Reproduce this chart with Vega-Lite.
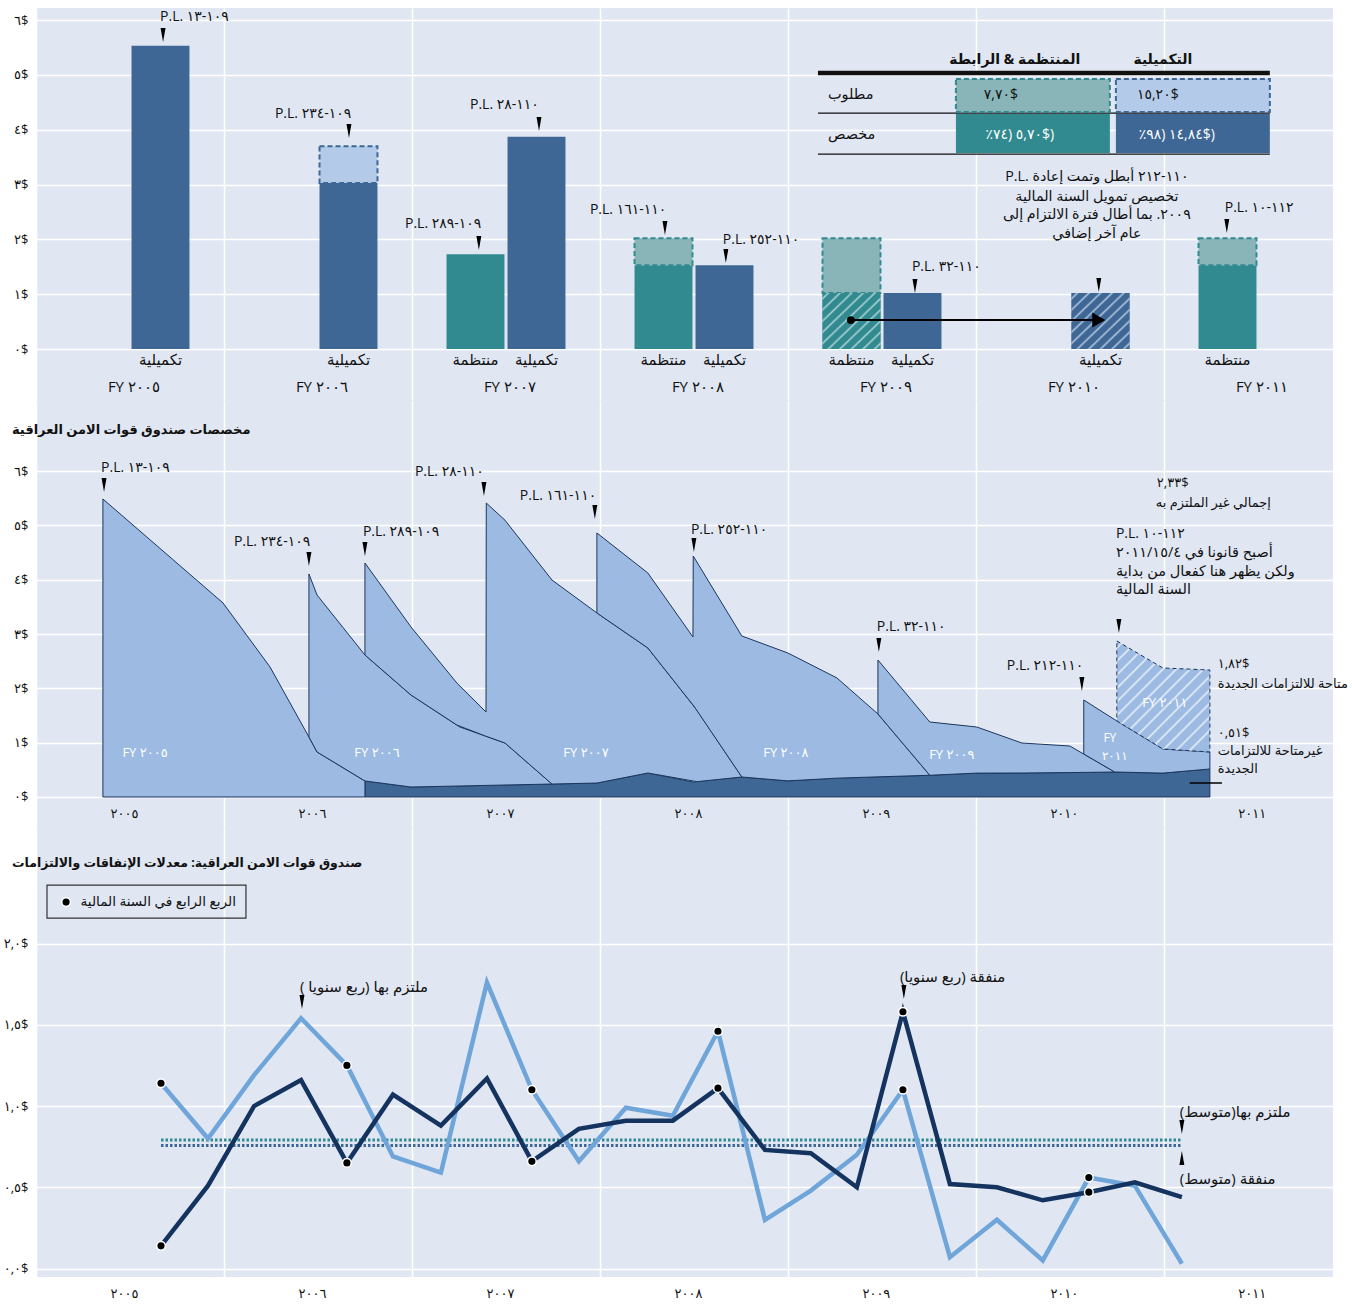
{
  "$schema": "https://vega.github.io/schema/vega-lite/v6.json",
  "background": "white",
  "padding": {"left": 3, "top": 8, "right": 0, "bottom": 0},
  "spacing": 0,
  "bounds": "flush",
  "config": {
    "view": {"fill": "#E0E7F3", "stroke": null},
    "font": "Open Sans, DejaVu Sans, sans-serif",
    "axis": {"domain": false, "ticks": false, "tickSize": 0, "gridColor": "#FFFFFF", "gridWidth": 1.6, "gridOpacity": 1, "labelColor": "#111111", "labelFontSize": 13},
    "text": {"fontSize": 13, "color": "#111111"}
  },
  "datasets": {
    "bars": [
      {"fy": "FY ٢٠٠٥", "type": "تكميلية", "allocated": 5.53, "requested": 5.53, "hatched": false},
      {"fy": "FY ٢٠٠٦", "type": "تكميلية", "allocated": 3.03, "requested": 3.7, "hatched": false},
      {"fy": "FY ٢٠٠٧", "type": "منتظمة", "allocated": 1.73, "requested": 1.73, "hatched": false},
      {"fy": "FY ٢٠٠٧", "type": "تكميلية", "allocated": 3.87, "requested": 3.87, "hatched": false},
      {"fy": "FY ٢٠٠٨", "type": "منتظمة", "allocated": 1.53, "requested": 2.02, "hatched": false},
      {"fy": "FY ٢٠٠٨", "type": "تكميلية", "allocated": 1.53, "requested": 1.53, "hatched": false},
      {"fy": "FY ٢٠٠٩", "type": "منتظمة", "allocated": 1.02, "requested": 2.02, "hatched": true},
      {"fy": "FY ٢٠٠٩", "type": "تكميلية", "allocated": 1.02, "requested": 1.02, "hatched": false},
      {"fy": "FY ٢٠١٠", "type": "تكميلية", "allocated": 1.02, "requested": 1.02, "hatched": true},
      {"fy": "FY ٢٠١١", "type": "منتظمة", "allocated": 1.53, "requested": 2.02, "hatched": false}
    ],
    "dark": [
      {"t": 1.750, "v": 0.295}, {"t": 1.995, "v": 0.184}, {"t": 2.745, "v": 0.239}, {"t": 2.984, "v": 0.257},
      {"t": 3.255, "v": 0.442}, {"t": 3.495, "v": 0.276}, {"t": 3.755, "v": 0.368}, {"t": 4.0, "v": 0.297},
      {"t": 4.261, "v": 0.347}, {"t": 4.755, "v": 0.40}, {"t": 5.005, "v": 0.44}, {"t": 5.245, "v": 0.442},
      {"t": 5.5, "v": 0.45}, {"t": 5.739, "v": 0.46}, {"t": 5.995, "v": 0.44}, {"t": 6.245, "v": 0.516}
    ],
    "areas": [
      {"fy": "FY2005", "t": 0.356, "lo": 0, "hi": 5.488},
      {"fy": "FY2005", "t": 0.995, "lo": 0, "hi": 3.573},
      {"fy": "FY2005", "t": 1.245, "lo": 0, "hi": 2.394},
      {"fy": "FY2005", "t": 1.452, "lo": 0, "hi": 1.105},
      {"fy": "FY2005", "t": 1.495, "lo": 0, "hi": 0.829},
      {"fy": "FY2005", "t": 1.750, "lo": 0, "hi": 0.295},
      {"fy": "FY2006", "t": 1.452, "lo": 1.105, "hi": 4.107},
      {"fy": "FY2006", "t": 1.495, "lo": 0.829, "hi": 3.720},
      {"fy": "FY2006", "t": 1.750, "lo": 0.295, "hi": 2.615},
      {"fy": "FY2006", "t": 1.995, "lo": 0.184, "hi": 1.878},
      {"fy": "FY2006", "t": 2.255, "lo": 0.203, "hi": 1.289},
      {"fy": "FY2006", "t": 2.495, "lo": 0.221, "hi": 0.994},
      {"fy": "FY2006", "t": 2.745, "lo": 0.239, "hi": 0.239},
      {"fy": "FY2007", "t": 1.750, "lo": 2.615, "hi": 4.309},
      {"fy": "FY2007", "t": 1.995, "lo": 1.878, "hi": 3.131},
      {"fy": "FY2007", "t": 2.239, "lo": 1.325, "hi": 2.099},
      {"fy": "FY2007", "t": 2.394, "lo": 1.118, "hi": 1.565},
      {"fy": "FY2007", "t": 2.3955, "lo": 1.117, "hi": 5.414},
      {"fy": "FY2007", "t": 2.495, "lo": 0.994, "hi": 5.097},
      {"fy": "FY2007", "t": 2.745, "lo": 0.239, "hi": 3.996},
      {"fy": "FY2007", "t": 2.984, "lo": 0.257, "hi": 3.389},
      {"fy": "FY2007", "t": 3.255, "lo": 0.442, "hi": 2.744},
      {"fy": "FY2007", "t": 3.516, "lo": 0.283, "hi": 1.602},
      {"fy": "FY2007", "t": 3.755, "lo": 0.368, "hi": 0.368},
      {"fy": "FY2008", "t": 2.984, "lo": 3.389, "hi": 4.862},
      {"fy": "FY2008", "t": 3.255, "lo": 2.744, "hi": 4.125},
      {"fy": "FY2008", "t": 3.495, "lo": 1.694, "hi": 2.947},
      {"fy": "FY2008", "t": 3.4965, "lo": 1.692, "hi": 4.438},
      {"fy": "FY2008", "t": 3.755, "lo": 0.368, "hi": 2.965},
      {"fy": "FY2008", "t": 4.0, "lo": 0.297, "hi": 2.652},
      {"fy": "FY2008", "t": 4.261, "lo": 0.347, "hi": 2.192},
      {"fy": "FY2008", "t": 4.479, "lo": 0.371, "hi": 1.529},
      {"fy": "FY2008", "t": 4.755, "lo": 0.40, "hi": 0.40},
      {"fy": "FY2009", "t": 4.479, "lo": 1.529, "hi": 2.523},
      {"fy": "FY2009", "t": 4.755, "lo": 0.40, "hi": 1.381},
      {"fy": "FY2009", "t": 5.005, "lo": 0.44, "hi": 1.289},
      {"fy": "FY2009", "t": 5.245, "lo": 0.442, "hi": 0.994},
      {"fy": "FY2009", "t": 5.5, "lo": 0.45, "hi": 0.939},
      {"fy": "FY2009", "t": 5.739, "lo": 0.46, "hi": 0.46},
      {"fy": "FY2011a", "t": 5.574, "lo": 0.791, "hi": 1.786},
      {"fy": "FY2011a", "t": 5.739, "lo": 0.46, "hi": 1.424},
      {"fy": "FY2011a", "t": 5.75, "lo": 0.46, "hi": 1.40},
      {"fy": "FY2011a", "t": 5.995, "lo": 0.44, "hi": 0.884},
      {"fy": "FY2011a", "t": 6.245, "lo": 0.516, "hi": 0.829},
      {"fy": "FY2011b", "t": 5.75, "lo": 1.40, "hi": 2.873},
      {"fy": "FY2011b", "t": 5.995, "lo": 0.884, "hi": 2.376},
      {"fy": "FY2011b", "t": 6.245, "lo": 0.829, "hi": 2.339}
    ],
    "rates": [
      {"quarter": "Q1", "t": 0.665, "obligated": 1.14, "expended": 0.14, "q4": true},
      {"quarter": "Q2", "t": 0.915, "obligated": 0.80, "expended": 0.51, "q4": false},
      {"quarter": "Q3", "t": 1.160, "obligated": 1.19, "expended": 1.00, "q4": false},
      {"quarter": "Q4", "t": 1.410, "obligated": 1.54, "expended": 1.16, "q4": false},
      {"quarter": "Q5", "t": 1.654, "obligated": 1.25, "expended": 0.65, "q4": true},
      {"quarter": "Q6", "t": 1.899, "obligated": 0.69, "expended": 1.07, "q4": false},
      {"quarter": "Q7", "t": 2.154, "obligated": 0.59, "expended": 0.88, "q4": false},
      {"quarter": "Q8", "t": 2.399, "obligated": 1.76, "expended": 1.17, "q4": false},
      {"quarter": "Q9", "t": 2.638, "obligated": 1.10, "expended": 0.66, "q4": true},
      {"quarter": "Q10", "t": 2.888, "obligated": 0.66, "expended": 0.86, "q4": false},
      {"quarter": "Q11", "t": 3.138, "obligated": 0.99, "expended": 0.91, "q4": false},
      {"quarter": "Q12", "t": 3.388, "obligated": 0.94, "expended": 0.91, "q4": false},
      {"quarter": "Q13", "t": 3.628, "obligated": 1.46, "expended": 1.11, "q4": true},
      {"quarter": "Q14", "t": 3.878, "obligated": 0.30, "expended": 0.73, "q4": false},
      {"quarter": "Q15", "t": 4.122, "obligated": 0.48, "expended": 0.71, "q4": false},
      {"quarter": "Q16", "t": 4.367, "obligated": 0.70, "expended": 0.50, "q4": false},
      {"quarter": "Q17", "t": 4.612, "obligated": 1.10, "expended": 1.58, "q4": true},
      {"quarter": "Q18", "t": 4.862, "obligated": 0.07, "expended": 0.52, "q4": false},
      {"quarter": "Q19", "t": 5.112, "obligated": 0.30, "expended": 0.50, "q4": false},
      {"quarter": "Q20", "t": 5.356, "obligated": 0.05, "expended": 0.42, "q4": false},
      {"quarter": "Q21", "t": 5.601, "obligated": 0.56, "expended": 0.47, "q4": true},
      {"quarter": "Q22", "t": 5.846, "obligated": 0.51, "expended": 0.53, "q4": false},
      {"quarter": "Q23", "t": 6.096, "obligated": 0.03, "expended": 0.44, "q4": false}
    ]
  },
  "vconcat": [
    {
      "width": 1297,
      "height": 392,
      "resolve": {"scale": {"x": "independent"}, "axis": {"x": "independent"}},
      "layer": [
        {
          "data": {"name": "bars"},
          "encoding": {
            "x": {"field": "fy", "type": "nominal", "scale": {"domain": ["FY ٢٠٠٥", "FY ٢٠٠٦", "FY ٢٠٠٧", "FY ٢٠٠٨", "FY ٢٠٠٩", "FY ٢٠١٠", "FY ٢٠١١"], "range": [0, 1316], "paddingInner": 0, "paddingOuter": 0},
              "axis": {"title": null, "bandPosition": 0, "grid": true, "labelAngle": 0, "labelOffset": 4, "labelPadding": -14, "labelBaseline": "middle", "labelFontSize": 15}},
            "xOffset": {"field": "type", "type": "nominal", "scale": {"domain": ["منتظمة", "تكميلية"], "paddingInner": 0.05, "paddingOuter": 0.566}}
          },
          "layer": [
            {
              "mark": {"type": "bar"},
              "encoding": {
                "y": {"field": "allocated", "type": "quantitative", "scale": {"domain": [-0.93, 6.22], "nice": false, "zero": false},
                  "axis": {"title": null, "values": [0, 1, 2, 3, 4, 5, 6], "labelExpr": "['٠$','١$','٢$','٣$','٤$','٥$','٦$'][datum.value]", "grid": true, "labelPadding": 8}},
                "y2": {"datum": 0},
                "color": {"field": "type", "type": "nominal", "scale": {"domain": ["منتظمة", "تكميلية"], "range": ["#318A8F", "#3E6795"]}, "legend": null}
              }
            },
            {
              "transform": [{"filter": "datum.requested > datum.allocated"}],
              "mark": {"type": "bar", "strokeDash": [5, 3], "strokeWidth": 2},
              "encoding": {
                "y": {"field": "requested", "type": "quantitative"},
                "y2": {"field": "allocated"},
                "fill": {"field": "type", "type": "nominal", "scale": {"domain": ["منتظمة", "تكميلية"], "range": ["#8AB5B8", "#B3CAE8"]}, "legend": null},
                "stroke": {"field": "type", "type": "nominal", "scale": {"domain": ["منتظمة", "تكميلية"], "range": ["#318A8F", "#3E6795"]}, "legend": null}
              }
            },
            {
              "transform": [{"filter": "datum.hatched && datum.type == 'منتظمة'"}],
              "mark": {"type": "bar", "fill": {"gradient": "linear", "x1": 0, "y1": 0, "x2": 1, "y2": 1, "stops": [
                {"offset": 0, "color": "#318A8F"},
                {"offset": 0.03, "color": "#318A8F"}, {"offset": 0.05, "color": "#A8D0D2"}, {"offset": 0.07, "color": "#318A8F"},
                {"offset": 0.13, "color": "#318A8F"}, {"offset": 0.15, "color": "#A8D0D2"}, {"offset": 0.17, "color": "#318A8F"},
                {"offset": 0.23, "color": "#318A8F"}, {"offset": 0.25, "color": "#A8D0D2"}, {"offset": 0.27, "color": "#318A8F"},
                {"offset": 0.33, "color": "#318A8F"}, {"offset": 0.35, "color": "#A8D0D2"}, {"offset": 0.37, "color": "#318A8F"},
                {"offset": 0.43, "color": "#318A8F"}, {"offset": 0.45, "color": "#A8D0D2"}, {"offset": 0.47, "color": "#318A8F"},
                {"offset": 0.53, "color": "#318A8F"}, {"offset": 0.55, "color": "#A8D0D2"}, {"offset": 0.57, "color": "#318A8F"},
                {"offset": 0.63, "color": "#318A8F"}, {"offset": 0.65, "color": "#A8D0D2"}, {"offset": 0.67, "color": "#318A8F"},
                {"offset": 0.73, "color": "#318A8F"}, {"offset": 0.75, "color": "#A8D0D2"}, {"offset": 0.77, "color": "#318A8F"},
                {"offset": 0.83, "color": "#318A8F"}, {"offset": 0.85, "color": "#A8D0D2"}, {"offset": 0.87, "color": "#318A8F"},
                {"offset": 0.93, "color": "#318A8F"}, {"offset": 0.95, "color": "#A8D0D2"}, {"offset": 0.97, "color": "#318A8F"},
                {"offset": 1, "color": "#318A8F"}]}},
              "encoding": {"y": {"field": "allocated", "type": "quantitative"}, "y2": {"datum": 0}}
            },
            {
              "transform": [{"filter": "datum.hatched && datum.type == 'تكميلية'"}],
              "mark": {"type": "bar", "fill": {"gradient": "linear", "x1": 0, "y1": 0, "x2": 1, "y2": 1, "stops": [
                {"offset": 0, "color": "#3E6795"},
                {"offset": 0.03, "color": "#3E6795"}, {"offset": 0.05, "color": "#AFC2DD"}, {"offset": 0.07, "color": "#3E6795"},
                {"offset": 0.13, "color": "#3E6795"}, {"offset": 0.15, "color": "#AFC2DD"}, {"offset": 0.17, "color": "#3E6795"},
                {"offset": 0.23, "color": "#3E6795"}, {"offset": 0.25, "color": "#AFC2DD"}, {"offset": 0.27, "color": "#3E6795"},
                {"offset": 0.33, "color": "#3E6795"}, {"offset": 0.35, "color": "#AFC2DD"}, {"offset": 0.37, "color": "#3E6795"},
                {"offset": 0.43, "color": "#3E6795"}, {"offset": 0.45, "color": "#AFC2DD"}, {"offset": 0.47, "color": "#3E6795"},
                {"offset": 0.53, "color": "#3E6795"}, {"offset": 0.55, "color": "#AFC2DD"}, {"offset": 0.57, "color": "#3E6795"},
                {"offset": 0.63, "color": "#3E6795"}, {"offset": 0.65, "color": "#AFC2DD"}, {"offset": 0.67, "color": "#3E6795"},
                {"offset": 0.73, "color": "#3E6795"}, {"offset": 0.75, "color": "#AFC2DD"}, {"offset": 0.77, "color": "#3E6795"},
                {"offset": 0.83, "color": "#3E6795"}, {"offset": 0.85, "color": "#AFC2DD"}, {"offset": 0.87, "color": "#3E6795"},
                {"offset": 0.93, "color": "#3E6795"}, {"offset": 0.95, "color": "#AFC2DD"}, {"offset": 0.97, "color": "#3E6795"},
                {"offset": 1, "color": "#3E6795"}]}},
              "encoding": {"y": {"field": "allocated", "type": "quantitative"}, "y2": {"datum": 0}}
            },
            {
              "mark": {"type": "text", "fontSize": 15, "baseline": "middle"},
              "encoding": {"y": {"datum": -0.2}, "text": {"field": "type"}}
            }
          ]
        },
        {
          "encoding": {
            "x": {"field": "t", "type": "quantitative", "scale": {"domain": [0, 6.9], "nice": false, "zero": false}, "axis": null},
            "y": {"field": "v", "type": "quantitative"}
          },
          "layer": [
            {
              "data": {"values": [
                {"t0": 4.16, "t1": 6.564, "v": 4.304},
                {"t0": 4.16, "t1": 6.564, "v": 3.556}
              ]},
              "mark": {"type": "rule", "color": "#111111", "strokeWidth": 1.2},
              "encoding": {"x": {"field": "t0", "type": "quantitative"}, "x2": {"field": "t1"}}
            },
            {
              "data": {"values": [{"t0": 4.16, "t1": 6.564, "v": 5.035}]},
              "mark": {"type": "rule", "color": "#111111", "strokeWidth": 4.5},
              "encoding": {"x": {"field": "t0", "type": "quantitative"}, "x2": {"field": "t1"}}
            },
            {
              "data": {"values": [{"col": "المنتظمة", "row": "مطلوب", "t0": 4.894, "t1": 5.713, "v0": 4.322, "v1": 4.924}]},
              "mark": {"type": "rect", "fill": "#8AB5B8", "stroke": "#318A8F", "strokeDash": [5, 3], "strokeWidth": 2},
              "encoding": {"x": {"field": "t0", "type": "quantitative"}, "x2": {"field": "t1"}, "y": {"field": "v0", "type": "quantitative"}, "y2": {"field": "v1"}}
            },
            {
              "data": {"values": [{"col": "التكميلية", "row": "مطلوب", "t0": 5.745, "t1": 6.564, "v0": 4.322, "v1": 4.924}]},
              "mark": {"type": "rect", "fill": "#B3CAE8", "stroke": "#3E6795", "strokeDash": [5, 3], "strokeWidth": 2},
              "encoding": {"x": {"field": "t0", "type": "quantitative"}, "x2": {"field": "t1"}, "y": {"field": "v0", "type": "quantitative"}, "y2": {"field": "v1"}}
            },
            {
              "data": {"values": [{"col": "المنتظمة", "row": "مخصص", "t0": 4.894, "t1": 5.713, "v0": 3.575, "v1": 4.286}]},
              "mark": {"type": "rect", "fill": "#318A8F"},
              "encoding": {"x": {"field": "t0", "type": "quantitative"}, "x2": {"field": "t1"}, "y": {"field": "v0", "type": "quantitative"}, "y2": {"field": "v1"}}
            },
            {
              "data": {"values": [{"col": "التكميلية", "row": "مخصص", "t0": 5.745, "t1": 6.564, "v0": 3.575, "v1": 4.286}]},
              "mark": {"type": "rect", "fill": "#3E6795"},
              "encoding": {"x": {"field": "t0", "type": "quantitative"}, "x2": {"field": "t1"}, "y": {"field": "v0", "type": "quantitative"}, "y2": {"field": "v1"}}
            },
            {
              "data": {"values": [
                {"t": 5.207, "v": 5.271, "text": "المنتظمة & الرابطة"},
                {"t": 5.995, "v": 5.271, "text": "التكميلية"}
              ]},
              "mark": {"type": "text", "fontSize": 14, "fontWeight": "bold", "baseline": "middle", "align": "center"},
              "encoding": {"text": {"field": "text"}}
            },
            {
              "data": {"values": [
                {"t": 4.213, "v": 4.633, "text": "مطلوب"},
                {"t": 4.213, "v": 3.903, "text": "مخصص"}
              ]},
              "mark": {"type": "text", "fontSize": 14.5, "baseline": "middle", "align": "left"},
              "encoding": {"text": {"field": "text"}}
            },
            {
              "data": {"values": [
                {"t": 5.133, "v": 4.633, "text": "\u202D٧,٧٠$\u202C"},
                {"t": 5.968, "v": 4.633, "text": "\u202D١٥,٢٠$\u202C"}
              ]},
              "mark": {"type": "text", "fontSize": 14, "baseline": "middle", "align": "center"},
              "encoding": {"text": {"field": "text"}}
            },
            {
              "data": {"values": [
                {"t": 5.234, "v": 3.903, "text": "\u202D٪٧٤) ٥,٧٠$)\u202C"},
                {"t": 6.069, "v": 3.903, "text": "\u202D٪٩٨) ١٤,٨٤$)\u202C"}
              ]},
              "mark": {"type": "text", "fontSize": 14, "baseline": "middle", "align": "center", "color": "#FFFFFF"},
              "encoding": {"text": {"field": "text"}}
            },
            {
              "data": {"values": [
                {"t": 0.660, "v": 6.055, "text": "\u202DP.L. ١٣-١٠٩\u202C"},
                {"t": 1.271, "v": 4.286, "text": "\u202DP.L. ٢٣٤-١٠٩\u202C"},
                {"t": 1.963, "v": 2.280, "text": "\u202DP.L. ٢٨٩-١٠٩\u202C"},
                {"t": 2.309, "v": 4.450, "text": "\u202DP.L. ٢٨-١١٠\u202C"},
                {"t": 2.947, "v": 2.535, "text": "\u202DP.L. ١٦١-١١٠\u202C"},
                {"t": 3.654, "v": 1.988, "text": "\u202DP.L. ٢٥٢-١١٠\u202C"},
                {"t": 4.660, "v": 1.496, "text": "\u202DP.L. ٣٢-١١٠\u202C"},
                {"t": 6.324, "v": 2.572, "text": "\u202DP.L. ١٠-١١٢\u202C"}
              ]},
              "mark": {"type": "text", "fontSize": 14, "baseline": "middle", "align": "left"},
              "encoding": {"text": {"field": "text"}}
            },
            {
              "data": {"values": [
                {"t": 5.644, "v": 3.137, "text": "P.L. ١١٠-٢١٢ أبطل وتمت إعادة"},
                {"t": 5.644, "v": 2.772, "text": "تخصيص تمويل السنة المالية"},
                {"t": 5.644, "v": 2.444, "text": "٢٠٠٩. بما أطال فترة الالتزام إلى"},
                {"t": 5.644, "v": 2.097, "text": "عام آخر إضافي"}
              ]},
              "mark": {"type": "text", "fontSize": 14.3, "baseline": "middle", "align": "center"},
              "encoding": {"text": {"field": "text"}}
            },
            {
              "data": {"values": [
                {"t": 0.676, "v": 5.727}, {"t": 1.665, "v": 3.976}, {"t": 2.356, "v": 1.933},
                {"t": 2.676, "v": 4.104}, {"t": 3.346, "v": 2.207}, {"t": 3.670, "v": 1.696},
                {"t": 4.676, "v": 1.149}, {"t": 5.654, "v": 1.167}, {"t": 6.335, "v": 2.243}
              ]},
              "mark": {"type": "point", "shape": "M-0.35,-1L0.35,-1L0,1Z", "filled": true, "color": "#000000", "size": 200, "opacity": 1}
            },
            {
              "data": {"values": [{"t0": 4.335, "t1": 5.63, "v": 0.529}]},
              "mark": {"type": "rule", "color": "#000000", "strokeWidth": 2},
              "encoding": {"x": {"field": "t0", "type": "quantitative"}, "x2": {"field": "t1"}}
            },
            {
              "data": {"values": [{"t": 4.335, "v": 0.529}]},
              "mark": {"type": "point", "shape": "circle", "filled": true, "color": "#000000", "size": 60, "opacity": 1}
            },
            {
              "data": {"values": [{"t": 5.654, "v": 0.529}]},
              "mark": {"type": "point", "shape": "triangle-right", "filled": true, "color": "#000000", "size": 230, "opacity": 1}
            }
          ]
        }
      ]
    },
    {
      "width": 1297,
      "height": 428,
      "encoding": {
        "x": {"field": "t", "type": "quantitative", "scale": {"domain": [0, 6.9], "nice": false, "zero": false},
          "axis": {"title": null, "values": [0, 1, 2, 3, 4, 5, 6], "labelExpr": "['٢٠٠٥','٢٠٠٦','٢٠٠٧','٢٠٠٨','٢٠٠٩','٢٠١٠','٢٠١١'][datum.value]", "grid": true, "labelOffset": 88, "labelPadding": -15, "labelBaseline": "middle", "labelFlush": false, "labelOverlap": false, "labelFontSize": 13}},
        "y": {"field": "v", "type": "quantitative", "scale": {"domain": [-0.571, 7.311], "nice": false, "zero": false},
          "axis": {"title": null, "values": [0, 1, 2, 3, 4, 5, 6], "labelExpr": "['٠$','١$','٢$','٣$','٤$','٥$','٦$'][datum.value]", "grid": true, "labelPadding": 8}}
      },
      "layer": [
        {
          "data": {"name": "dark"},
          "mark": {"type": "area", "fill": "#3E6795", "stroke": "#1C355E", "strokeWidth": 1},
          "encoding": {"y2": {"datum": 0}}
        },
        {
          "data": {"name": "areas"},
          "transform": [{"filter": "datum.fy != 'FY2011b'"}],
          "mark": {"type": "area", "fill": "#9DBBE2", "stroke": "#1C355E", "strokeWidth": 1, "fillOpacity": 1},
          "encoding": {"y": {"field": "hi", "type": "quantitative"}, "y2": {"field": "lo"}, "detail": {"field": "fy"}}
        },
        {
          "data": {"name": "areas"},
          "transform": [{"filter": "datum.fy == 'FY2011b'"}],
          "mark": {"type": "area", "stroke": "#1C355E", "strokeWidth": 1, "strokeDash": [4, 3], "fillOpacity": 1,
            "fill": {"gradient": "linear", "x1": 0, "y1": 0, "x2": 0.84, "y2": 1, "stops": [
              {"offset": 0, "color": "#9DBBE2"},
              {"offset": 0.024, "color": "#9DBBE2"}, {"offset": 0.036, "color": "#E6EEF8"}, {"offset": 0.048, "color": "#9DBBE2"},
              {"offset": 0.095, "color": "#9DBBE2"}, {"offset": 0.107, "color": "#E6EEF8"}, {"offset": 0.119, "color": "#9DBBE2"},
              {"offset": 0.167, "color": "#9DBBE2"}, {"offset": 0.179, "color": "#E6EEF8"}, {"offset": 0.191, "color": "#9DBBE2"},
              {"offset": 0.238, "color": "#9DBBE2"}, {"offset": 0.250, "color": "#E6EEF8"}, {"offset": 0.262, "color": "#9DBBE2"},
              {"offset": 0.309, "color": "#9DBBE2"}, {"offset": 0.321, "color": "#E6EEF8"}, {"offset": 0.333, "color": "#9DBBE2"},
              {"offset": 0.381, "color": "#9DBBE2"}, {"offset": 0.393, "color": "#E6EEF8"}, {"offset": 0.405, "color": "#9DBBE2"},
              {"offset": 0.452, "color": "#9DBBE2"}, {"offset": 0.464, "color": "#E6EEF8"}, {"offset": 0.476, "color": "#9DBBE2"},
              {"offset": 0.524, "color": "#9DBBE2"}, {"offset": 0.536, "color": "#E6EEF8"}, {"offset": 0.548, "color": "#9DBBE2"},
              {"offset": 0.595, "color": "#9DBBE2"}, {"offset": 0.607, "color": "#E6EEF8"}, {"offset": 0.619, "color": "#9DBBE2"},
              {"offset": 0.667, "color": "#9DBBE2"}, {"offset": 0.679, "color": "#E6EEF8"}, {"offset": 0.691, "color": "#9DBBE2"},
              {"offset": 0.738, "color": "#9DBBE2"}, {"offset": 0.750, "color": "#E6EEF8"}, {"offset": 0.762, "color": "#9DBBE2"},
              {"offset": 0.809, "color": "#9DBBE2"}, {"offset": 0.821, "color": "#E6EEF8"}, {"offset": 0.833, "color": "#9DBBE2"},
              {"offset": 0.881, "color": "#9DBBE2"}, {"offset": 0.893, "color": "#E6EEF8"}, {"offset": 0.905, "color": "#9DBBE2"},
              {"offset": 0.952, "color": "#9DBBE2"}, {"offset": 0.964, "color": "#E6EEF8"}, {"offset": 0.976, "color": "#9DBBE2"},
              {"offset": 1, "color": "#9DBBE2"}]}},
          "encoding": {"y": {"field": "hi", "type": "quantitative"}, "y2": {"field": "lo"}}
        },
        {
          "data": {"values": [
            {"t": 0.580, "v": 0.81, "text": "FY ٢٠٠٥"},
            {"t": 1.814, "v": 0.81, "text": "FY ٢٠٠٦"},
            {"t": 2.926, "v": 0.81, "text": "FY ٢٠٠٧"},
            {"t": 3.989, "v": 0.81, "text": "FY ٢٠٠٨"},
            {"t": 4.872, "v": 0.77, "text": "FY ٢٠٠٩"},
            {"t": 6.005, "v": 1.731, "text": "FY ٢٠١١"}
          ]},
          "mark": {"type": "text", "fontSize": 13, "baseline": "middle", "align": "center", "color": "#FFFFFF"},
          "encoding": {"text": {"field": "text"}}
        },
        {
          "data": {"values": [
            {"t": 5.713, "v": 1.08, "text": "FY"},
            {"t": 5.739, "v": 0.76, "text": "٢٠١١"}
          ]},
          "mark": {"type": "text", "fontSize": 12, "baseline": "middle", "align": "center", "color": "#FFFFFF"},
          "encoding": {"text": {"field": "text"}}
        },
        {
          "data": {"values": [{"t": -0.128, "v": 6.759, "text": "مخصصات صندوق قوات الامن العراقية"}]},
          "mark": {"type": "text", "fontSize": 13, "fontWeight": "bold", "baseline": "middle", "align": "left"},
          "encoding": {"text": {"field": "text"}}
        },
        {
          "data": {"values": [
            {"t": 0.346, "v": 6.059, "text": "\u202DP.L. ١٣-١٠٩\u202C"},
            {"t": 1.053, "v": 4.696, "text": "\u202DP.L. ٢٣٤-١٠٩\u202C"},
            {"t": 1.739, "v": 4.880, "text": "\u202DP.L. ٢٨٩-١٠٩\u202C"},
            {"t": 2.016, "v": 5.985, "text": "\u202DP.L. ٢٨-١١٠\u202C"},
            {"t": 2.574, "v": 5.543, "text": "\u202DP.L. ١٦١-١١٠\u202C"},
            {"t": 3.484, "v": 4.917, "text": "\u202DP.L. ٢٥٢-١١٠\u202C"},
            {"t": 4.473, "v": 3.131, "text": "\u202DP.L. ٣٢-١١٠\u202C"},
            {"t": 5.165, "v": 2.413, "text": "\u202DP.L. ٢١٢-١١٠\u202C"},
            {"t": 5.745, "v": 4.843, "text": "\u202DP.L. ١٠-١١٢\u202C"}
          ]},
          "mark": {"type": "text", "fontSize": 14, "baseline": "middle", "align": "left"},
          "encoding": {"text": {"field": "text"}}
        },
        {
          "data": {"values": [
            {"t": 5.745, "v": 4.494, "text": "أصبح قانونا في ٢٠١١/١٥/٤"},
            {"t": 5.745, "v": 4.144, "text": "ولكن يظهر هنا كفعال من بداية"},
            {"t": 5.745, "v": 3.812, "text": "السنة المالية"}
          ]},
          "mark": {"type": "text", "fontSize": 14.5, "baseline": "middle", "align": "left"},
          "encoding": {"text": {"field": "text"}}
        },
        {
          "data": {"values": [
            {"t": 5.963, "v": 5.783, "text": "\u202D٢,٣٣$\u202C"},
            {"t": 5.957, "v": 5.414, "text": "إجمالي غير الملتزم به"},
            {"t": 6.287, "v": 2.449, "text": "\u202D١,٨٢$\u202C"},
            {"t": 6.287, "v": 2.081, "text": "متاحة للالتزامات الجديدة"},
            {"t": 6.287, "v": 1.179, "text": "\u202D٠,٥١$\u202C"},
            {"t": 6.287, "v": 0.847, "text": "غيرمتاحة للالتزامات"},
            {"t": 6.287, "v": 0.516, "text": "الجديدة"}
          ]},
          "mark": {"type": "text", "fontSize": 13, "baseline": "middle", "align": "left"},
          "encoding": {"text": {"field": "text"}}
        },
        {
          "data": {"values": [
            {"t": 0.362, "v": 5.746}, {"t": 1.452, "v": 4.383}, {"t": 1.750, "v": 4.567},
            {"t": 2.383, "v": 5.672}, {"t": 2.973, "v": 5.249}, {"t": 3.500, "v": 4.641},
            {"t": 4.484, "v": 2.799}, {"t": 5.564, "v": 2.081}, {"t": 5.761, "v": 3.149}
          ]},
          "mark": {"type": "point", "shape": "M-0.35,-1L0.35,-1L0,1Z", "filled": true, "color": "#000000", "size": 200, "opacity": 1}
        },
        {
          "data": {"values": [{"t0": 6.138, "t1": 6.309, "v": 0.258}]},
          "mark": {"type": "rule", "color": "#000000", "strokeWidth": 1.5},
          "encoding": {"x": {"field": "t0", "type": "quantitative"}, "x2": {"field": "t1"}}
        }
      ]
    },
    {
      "width": 1297,
      "height": 449,
      "layer": [
        {
          "data": {"name": "rates"},
          "transform": [
            {"fold": ["obligated", "expended"], "as": ["series", "value"]},
            {"aggregate": [{"op": "mean", "field": "value", "as": "avg"}, {"op": "min", "field": "t", "as": "tmin"}, {"op": "max", "field": "t", "as": "tmax"}], "groupby": ["series"]}
          ],
          "mark": {"type": "rule", "strokeDash": [2.5, 2], "strokeWidth": 3},
          "encoding": {
            "x": {"field": "tmin", "type": "quantitative", "scale": {"domain": [0, 6.9], "nice": false, "zero": false},
              "axis": {"title": null, "values": [0, 1, 2, 3, 4, 5, 6], "labelExpr": "['٢٠٠٥','٢٠٠٦','٢٠٠٧','٢٠٠٨','٢٠٠٩','٢٠١٠','٢٠١١'][datum.value]", "grid": true, "labelOffset": 88, "labelPadding": 16, "labelBaseline": "middle", "labelFlush": false, "labelOverlap": false, "labelFontSize": 13}},
            "x2": {"field": "tmax"},
            "y": {"field": "avg", "type": "quantitative", "scale": {"domain": [-0.052, 2.711], "nice": false, "zero": false},
              "axis": {"title": null, "values": [0, 0.5, 1, 1.5, 2], "labelExpr": "['٠,٠$','٠,٥$','١,٠$','١,٥$','٢,٠$'][round(datum.value*2)]", "grid": true, "labelPadding": 8}},
            "color": {"field": "series", "type": "nominal", "scale": {"domain": ["obligated", "expended"], "range": ["#6FA5D9", "#14335F"]}, "legend": null}
          }
        },
        {
          "data": {"name": "rates"},
          "mark": {"type": "line", "color": "#6FA5D9", "strokeWidth": 4.5},
          "encoding": {"x": {"field": "t", "type": "quantitative"}, "y": {"field": "obligated", "type": "quantitative"}}
        },
        {
          "data": {"name": "rates"},
          "mark": {"type": "line", "color": "#14335F", "strokeWidth": 4.5},
          "encoding": {"x": {"field": "t", "type": "quantitative"}, "y": {"field": "expended", "type": "quantitative"}}
        },
        {
          "data": {"name": "rates"},
          "transform": [{"filter": "datum.q4"}, {"fold": ["obligated", "expended"], "as": ["series", "value"]}],
          "mark": {"type": "point", "shape": "circle", "filled": true, "fill": "#000000", "stroke": "#FFFFFF", "strokeWidth": 1.5, "size": 75, "opacity": 1},
          "encoding": {"x": {"field": "t", "type": "quantitative"}, "y": {"field": "value", "type": "quantitative"}}
        },
        {
          "data": {"values": [{"t": -0.128, "v": 2.495, "text": "صندوق قوات الامن العراقية: معدلات الإنفاقات والالتزامات"}]},
          "mark": {"type": "text", "fontSize": 12.5, "fontWeight": "bold", "baseline": "middle", "align": "left"},
          "encoding": {"x": {"field": "t", "type": "quantitative"}, "y": {"field": "v", "type": "quantitative"}, "text": {"field": "text"}}
        },
        {
          "data": {"values": [{"t0": 0.0585, "t1": 1.117, "v0": 2.157, "v1": 2.360}]},
          "mark": {"type": "rect", "fill": null, "fillOpacity": 0, "stroke": "#333333", "strokeWidth": 1.2},
          "encoding": {"x": {"field": "t0", "type": "quantitative"}, "x2": {"field": "t1"}, "y": {"field": "v0", "type": "quantitative"}, "y2": {"field": "v1"}}
        },
        {
          "data": {"values": [{"t": 1.064, "v": 2.255, "text": "الربع الرابع في السنة المالية"}]},
          "mark": {"type": "text", "fontSize": 13.6, "baseline": "middle", "align": "right"},
          "encoding": {"x": {"field": "t", "type": "quantitative"}, "y": {"field": "v", "type": "quantitative"}, "text": {"field": "text"}}
        },
        {
          "data": {"values": [{"t": 0.160, "v": 2.255}]},
          "mark": {"type": "point", "shape": "circle", "filled": true, "fill": "#000000", "stroke": "#FFFFFF", "strokeWidth": 1.5, "size": 75, "opacity": 1},
          "encoding": {"x": {"field": "t", "type": "quantitative"}, "y": {"field": "v", "type": "quantitative"}}
        },
        {
          "data": {"values": [
            {"t": 1.404, "v": 1.732, "text": "ملتزم بها (ربع سنويا )\u200F"},
            {"t": 4.596, "v": 1.794, "text": "منفقة (ربع سنويا)\u200F"},
            {"t": 6.085, "v": 0.963, "text": "ملتزم بها(متوسط)\u200F"},
            {"t": 6.085, "v": 0.551, "text": "منفقة (متوسط)\u200F"}
          ]},
          "mark": {"type": "text", "fontSize": 15, "baseline": "middle", "align": "left"},
          "encoding": {"x": {"field": "t", "type": "quantitative"}, "y": {"field": "v", "type": "quantitative"}, "text": {"field": "text"}}
        },
        {
          "data": {"values": [{"t": 1.415, "v": 1.640}, {"t": 4.617, "v": 1.702}, {"t": 6.096, "v": 0.871}]},
          "mark": {"type": "point", "shape": "M-0.35,-1L0.35,-1L0,1Z", "filled": true, "color": "#000000", "size": 200, "opacity": 1},
          "encoding": {"x": {"field": "t", "type": "quantitative"}, "y": {"field": "v", "type": "quantitative"}}
        },
        {
          "data": {"values": [{"t": 6.096, "v": 0.680}]},
          "mark": {"type": "point", "shape": "M-0.35,1L0.35,1L0,-1Z", "filled": true, "color": "#000000", "size": 200, "opacity": 1},
          "encoding": {"x": {"field": "t", "type": "quantitative"}, "y": {"field": "v", "type": "quantitative"}}
        }
      ]
    }
  ]
}
